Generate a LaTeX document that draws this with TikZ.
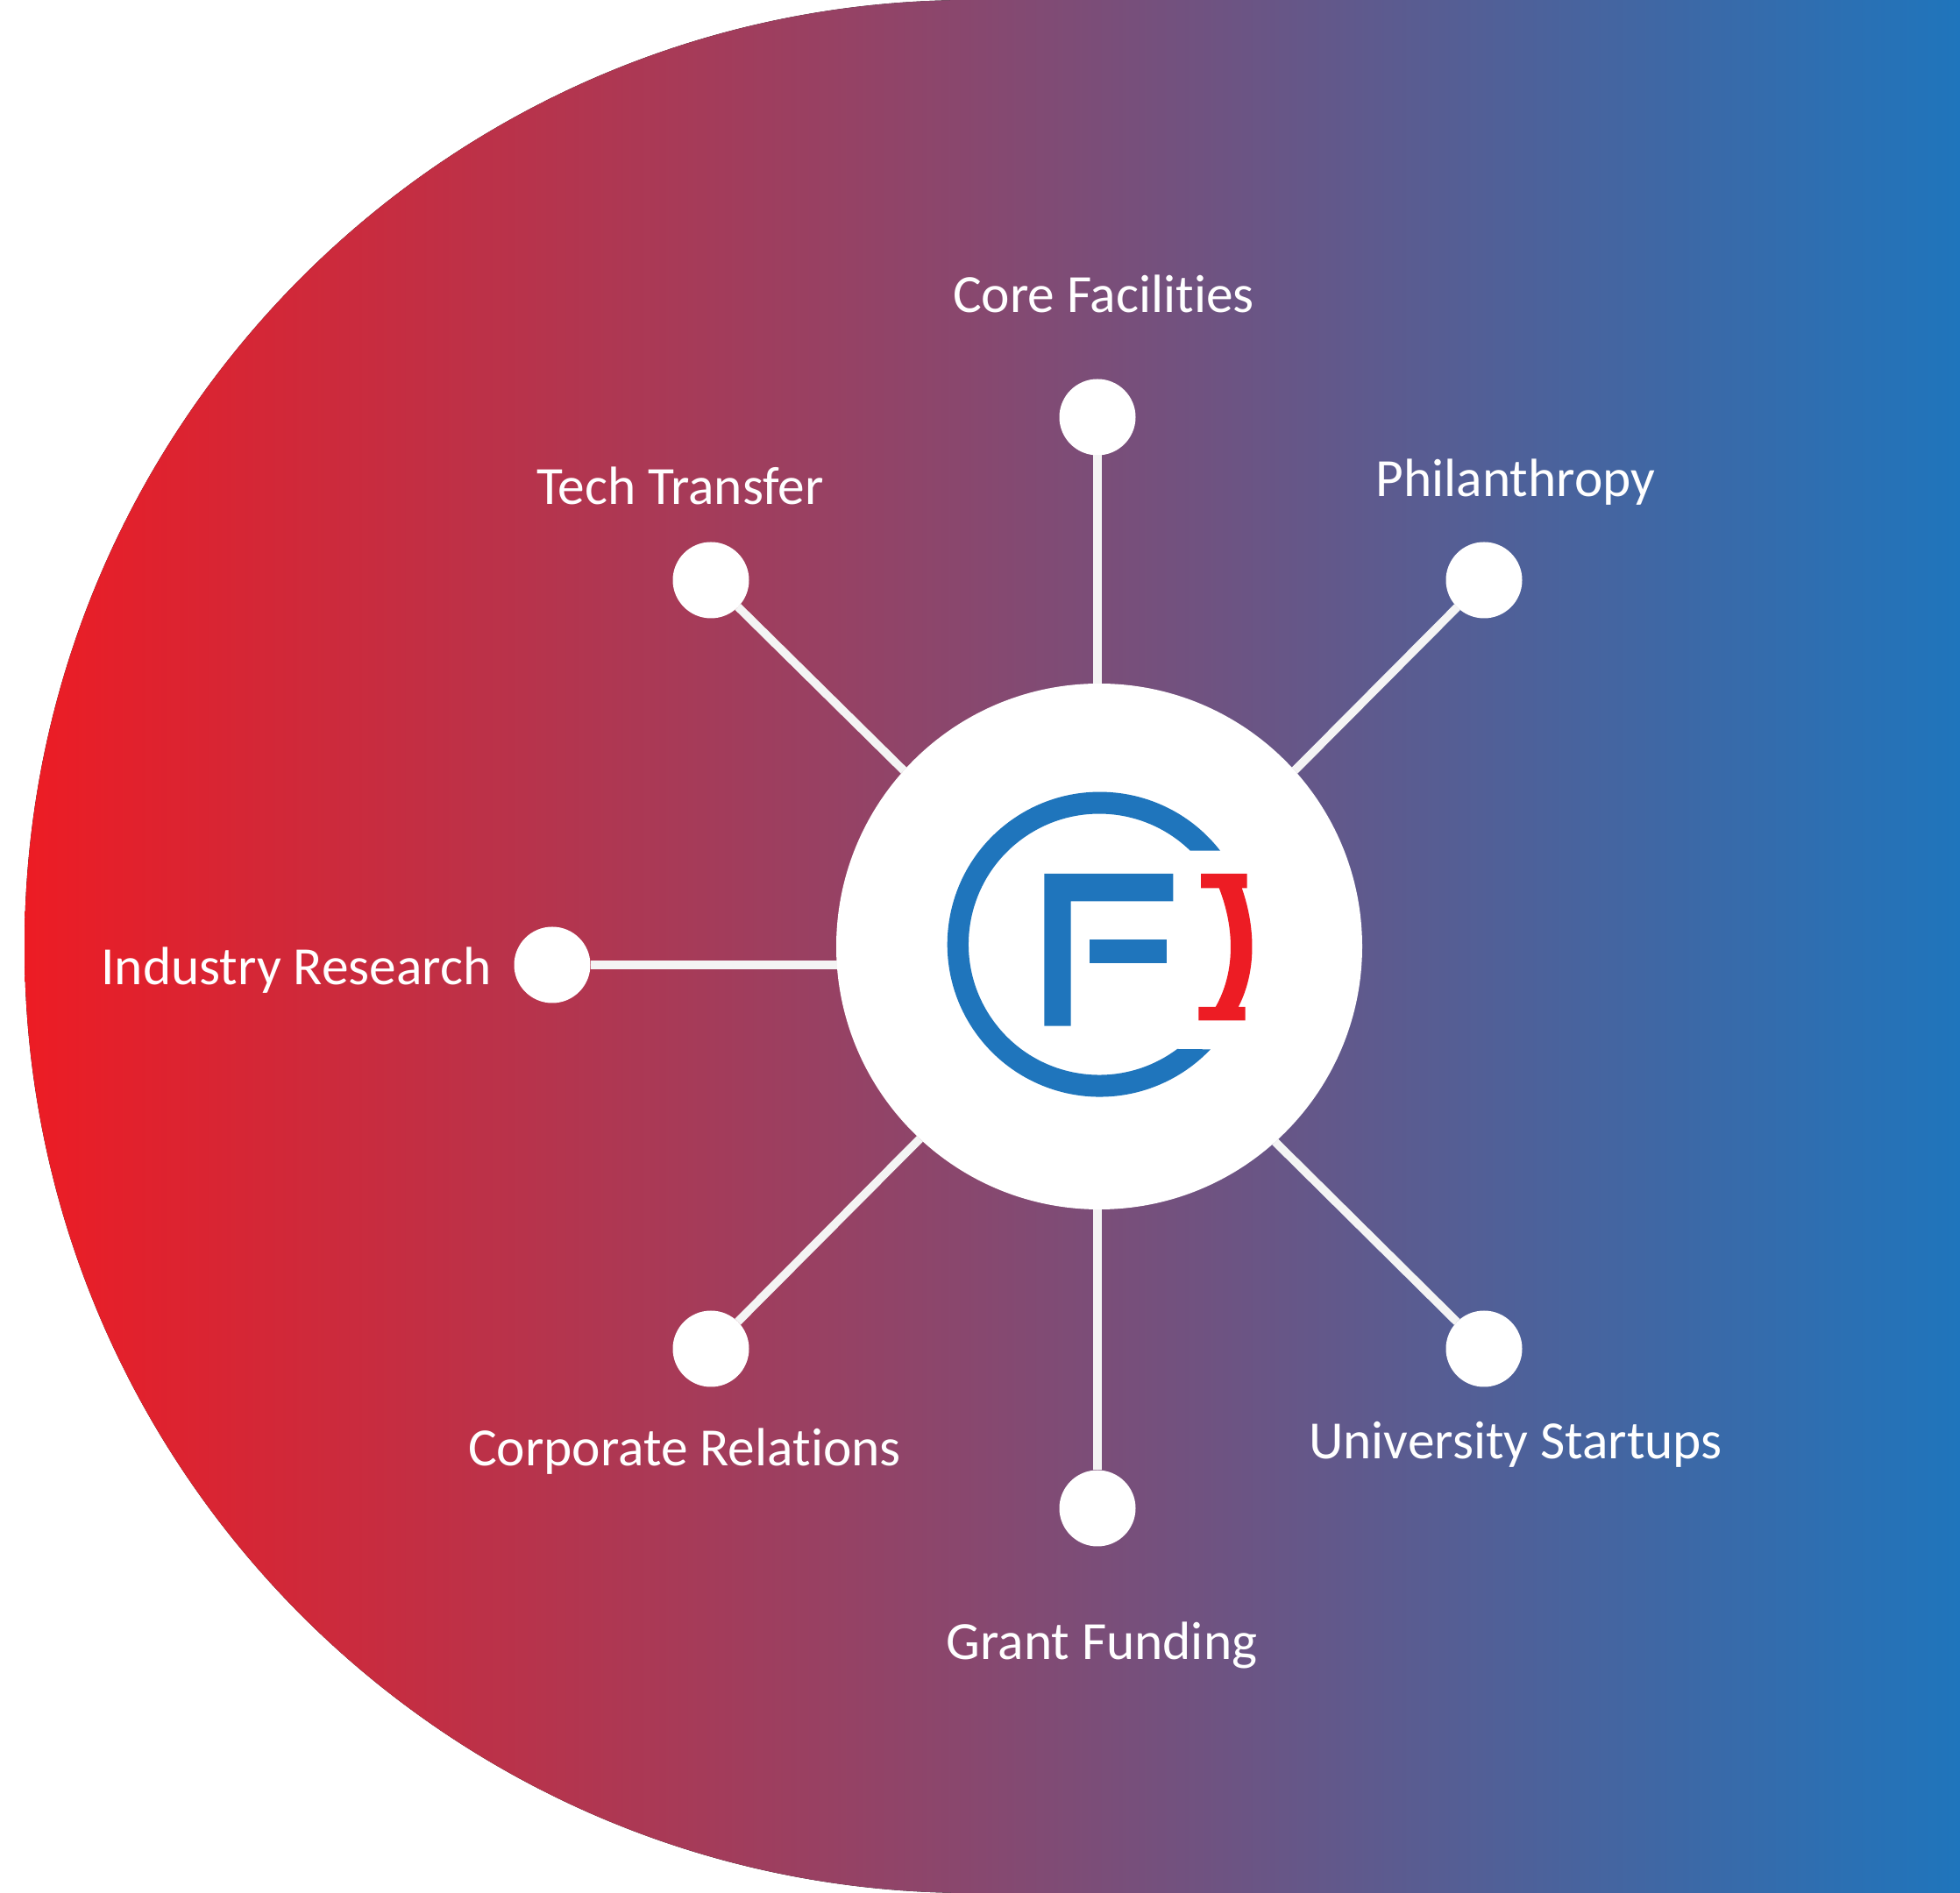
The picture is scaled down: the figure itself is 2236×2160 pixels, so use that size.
\documentclass[tikz,border=0pt]{standalone}
\usepackage{fontspec}
\setmainfont[Ligatures=NoCommon]{Carlito}
\usetikzlibrary{positioning}
\definecolor{gradred}{HTML}{ED1C24}
\definecolor{gradblue}{HTML}{1F75BC}
\definecolor{spokegrey}{HTML}{F4F4F4}
\tikzset{
    hubnode/.style={circle, fill=white, minimum size=600pt, inner sep=0pt, outer sep=0pt},
    dotnode/.style={circle, fill=white, minimum size=87pt, inner sep=0pt, outer sep=0pt},
    spoke/.style={line width=9.5pt, draw=spokegrey},
    lab/.style={text=white, inner sep=0pt, font=\fontsize{61.4}{74}\selectfont}
}
\begin{document}
\begin{tikzpicture}[x=1pt, y=1pt]
    \useasboundingbox (0,0) rectangle (2236,2160);
    % background
    \fill[left color=gradred, right color=gradblue] (2236,0) -- (1108,0) arc (-90:-270:1080pt) -- (2236,2160) -- cycle;
    % hub and dots
    \node[hubnode] (hub) at (1254,1080) {};
    \node[dotnode] (core) at (1252,1684) {};
    \node[dotnode] (tech) at (811,1498) {};
    \node[dotnode] (phil) at (1693,1498) {};
    \node[dotnode] (indu) at (630,1059) {};
    \node[dotnode] (corp) at (811,621) {};
    \node[dotnode] (univ) at (1693,621) {};
    \node[dotnode] (grant) at (1252,439) {};
    \draw[spoke] (core) -- (core |- hub.90);
    \draw[spoke] (tech) -- (hub.138.4);
    \draw[spoke] (phil) -- (hub.42);
    \draw[spoke] (indu) -- (indu -| hub.184.1);
    \draw[spoke] (corp) -- (hub.227.6);
    \draw[spoke] (univ) -- (hub.312);
    \draw[spoke] (grant) -- (grant |- hub.270);
    % labels
    \node[lab] (coretxt) at (1259,1824.5) {Core Facilities};
    \node[lab] (techtxt) at (776,1606) {Tech Transfer};
    \node[lab] (philtxt) at (1729,1609.5) {Philanthropy};
    \node[lab] (indutxt) at (338,1052.5) {Industry Research};
    \node[lab] (corptxt) at (781,504) {Corporate Relations};
    \node[lab] (univtxt) at (1729,511.5) {University Startups};
    \node[lab] (granttxt) at (1257,282.5) {Grant Funding};
    % logo
    \fill[gradblue] (1392,1189.3) arc (37.9:316.5:174pt) -- (1343,963) arc (306.7:45.8:149pt) -- cycle;
    \fill[gradblue] (1191.3,1163) -- (1338.3,1163) -- (1338.3,1131.7) -- (1221.7,1131.7) -- (1221.7,989.3) -- (1191.3,989.3) -- cycle;
    \fill[gradblue] (1243.3,1087.7) rectangle (1330.7,1061.3);
    \fill[gradred] (1370,1163) -- (1422.7,1163) -- (1422.7,1146.7) -- (1416.7,1146.7)
        .. controls (1433,1100) and (1433,1050) .. (1412.7,1011) -- (1420.7,1011) -- (1420.7,995.7) -- (1367.3,995.7) -- (1367.3,1011) -- (1386.7,1011)
        .. controls (1409,1050) and (1409,1100) .. (1390.7,1146.7) -- (1370,1146.7) -- cycle;
\end{tikzpicture}
\end{document}
